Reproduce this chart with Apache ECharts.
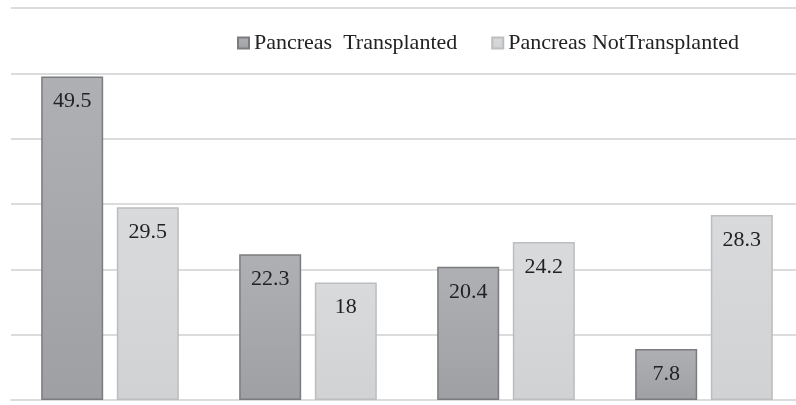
<!DOCTYPE html>
<html>
<head>
<meta charset="utf-8">
<script src="https://cdn.jsdelivr.net/npm/echarts@6/dist/echarts.min.js"></script>
<style>
  html, body { margin: 0; padding: 0; background: #fff; }
  #chart { width: 796px; height: 405px; }
</style>
</head>
<body>
<div id="chart"></div>
<script>
// Category groups (unlabelled on the axis)
const categories = ['Group 1', 'Group 2', 'Group 3', 'Group 4'];
const seriesNames = ['Pancreas  Transplanted', 'Pancreas NotTransplanted'];
const transplanted = [49.5, 22.3, 20.4, 7.8];
const notTransplanted = [29.5, 18, 24.2, 28.3];

const serif = '"Liberation Serif", "DejaVu Serif", serif';

function grad(top, bottom) {
  return new echarts.graphic.LinearGradient(0, 0, 0, 1, [
    { offset: 0, color: top },
    { offset: 1, color: bottom }
  ]);
}

const labelStyle = {
  show: true,
  position: 'insideTop',
  distance: 14,
  fontFamily: serif,
  fontSize: 22,
  color: '#222'
};

const chart = echarts.init(document.getElementById('chart'));
chart.setOption({
  animation: false,
  backgroundColor: '#fff',
  legend: {
    left: 237,
    top: 32,
    padding: 0,
    itemWidth: 11,
    itemHeight: 11,
    itemGap: 34,
    icon: 'rect',
    textStyle: { fontFamily: serif, fontSize: 22, color: '#222' },
    data: seriesNames
  },
  // plot area runs slightly past the right edge of the canvas
  grid: { left: 11, width: 792, top: 8, height: 392, outerBoundsMode: 'none' },
  xAxis: {
    type: 'category',
    data: categories,
    axisLine: { show: true, lineStyle: { color: '#dcdcdc', width: 2 } },
    axisTick: { show: false },
    axisLabel: { show: false }
  },
  yAxis: {
    type: 'value',
    min: 0,
    max: 60,
    interval: 10,
    axisLabel: { show: false },
    axisLine: { show: false },
    axisTick: { show: false },
    splitLine: { lineStyle: { color: '#dcdcdc', width: 2 } }
  },
  series: [
    {
      name: seriesNames[0],
      type: 'bar',
      data: transplanted,
      barWidth: 62,
      barGap: '22%',
      itemStyle: { color: grad('#aeb0b3', '#9ea0a3'), borderColor: '#7b7c7f', borderWidth: 1.5 },
      label: labelStyle
    },
    {
      name: seriesNames[1],
      type: 'bar',
      data: notTransplanted,
      barWidth: 62,
      itemStyle: { color: grad('#d9dadc', '#d0d2d4'), borderColor: '#bcbdbf', borderWidth: 1.5 },
      label: labelStyle
    }
  ]
});
</script>
</body>
</html>
